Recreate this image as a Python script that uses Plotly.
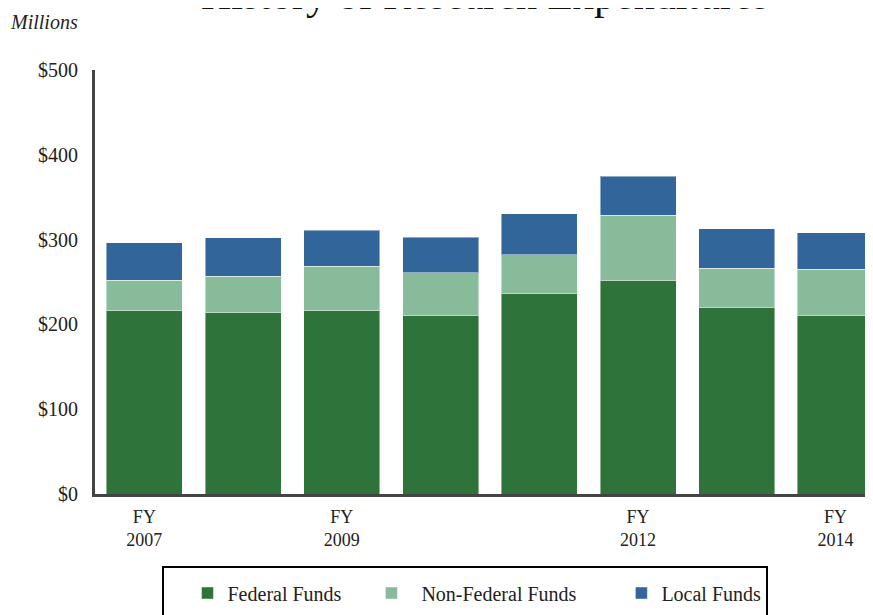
import plotly.graph_objects as go

years = ["2007", "2008", "2009", "2010", "2011", "2012", "2013", "2014"]
tick_text = ["FY<br>2007", "", "FY<br>2009", "", "", "FY<br>2012", "", "FY<br>2014"]
federal = [216, 214, 216, 211, 237, 252, 220, 211]
non_federal = [36, 43, 52.5, 50, 45, 77, 46.5, 54]
local = [44, 45, 42.5, 42, 48.5, 46, 46.5, 43]
y_ticks = [0, 100, 200, 300, 400, 500]
y_tick_text = ["$0", "$100", "$200", "$300", "$400", "$500"]
series_names = ["Federal Funds", "Non-Federal Funds", "Local Funds"]

FONT = "Liberation Serif"
NB = "\u00a0"
edge = dict(color="rgba(255,255,255,0.45)", width=1)


def px(xs):
    return (xs - 95) / 778


def py(ys):
    return (494 - ys) / 424


fig = go.Figure()
fig.add_trace(go.Bar(x=years, y=federal, name=series_names[0] + NB * 5,
                     marker=dict(color="#2E743A", line=edge)))
fig.add_trace(go.Bar(x=years, y=non_federal, name=NB * 2 + series_names[1] + NB * 8,
                     marker=dict(color="#87BB99", line=edge)))
fig.add_trace(go.Bar(x=years, y=local, name=series_names[2],
                     marker=dict(color="#32669A", line=edge)))

fig.update_layout(
    width=873, height=615,
    barmode="stack", bargap=0.23,
    paper_bgcolor="white", plot_bgcolor="white",
    margin=dict(l=87, r=8, t=62, b=129),
    font=dict(family=FONT, size=19, color="#222222"),
    showlegend=True,
    legend=dict(orientation="h", x=px(207.5 - 20), xanchor="left",
                y=py(593), yanchor="middle",
                font=dict(family=FONT, size=20, color="#222222"),
                traceorder="normal", bgcolor="rgba(0,0,0,0)"),
    xaxis=dict(type="category", range=[-0.5, 7.38],
               tickmode="array", tickvals=years, ticktext=tick_text,
               showline=True, linecolor="#444444", linewidth=3,
               showgrid=False, ticks="", zeroline=False,
               ticklabelstandoff=4,
               tickfont=dict(family=FONT, size=18, color="#222222")),
    yaxis=dict(range=[0, 500], tickmode="array", tickvals=y_ticks,
               ticktext=y_tick_text, showline=True, linecolor="#444444",
               linewidth=3, showgrid=False, ticks="", zeroline=False,
               ticklabelstandoff=10,
               tickfont=dict(family=FONT, size=20, color="#222222")),
)

fig.add_annotation(text="History of Research Expenditures", xref="paper", yref="paper",
                   x=px(485), y=py(20.5), xanchor="center", yanchor="bottom",
                   showarrow=False, font=dict(family=FONT, size=42, color="#111111"))
fig.add_annotation(text="<i>Millions</i>", xref="paper", yref="paper",
                   x=px(8), y=py(22), xanchor="left", yanchor="middle",
                   showarrow=False, font=dict(family=FONT, size=20, color="#222222"))
fig.add_shape(type="rect", xref="paper", yref="paper",
              x0=px(163), x1=px(767), y0=py(567), y1=py(625),
              line=dict(color="black", width=2), fillcolor="rgba(0,0,0,0)")

fig.write_html("out.html")
